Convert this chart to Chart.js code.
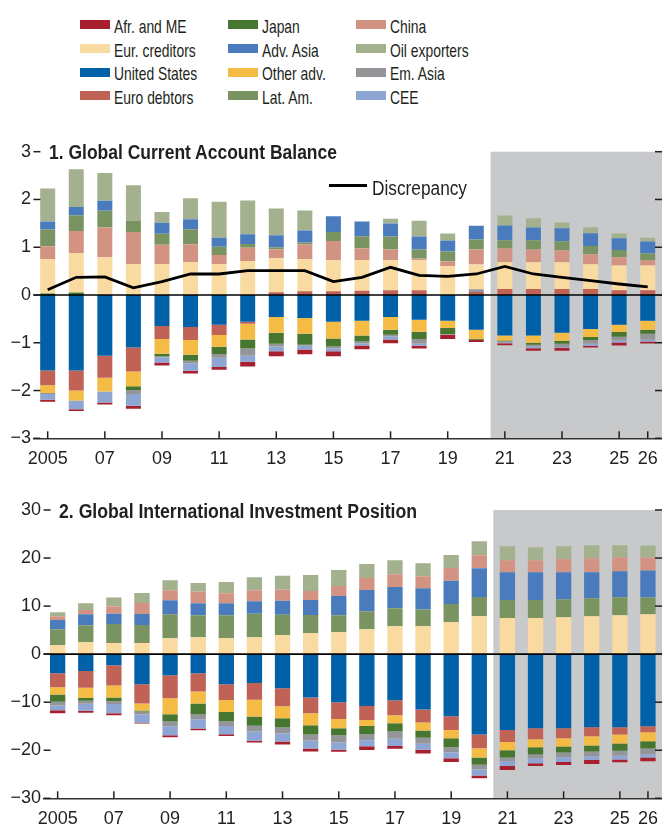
<!DOCTYPE html>
<html>
<head>
<meta charset="utf-8">
<script src="https://cdn.jsdelivr.net/npm/chart.js@4.4.1/dist/chart.umd.min.js"></script>
<style>
  html, body { margin:0; padding:0; background:#fff; }
  body { width:662px; height:825px; position:relative; overflow:hidden;
         font-family:'Liberation Sans',Arial,sans-serif; color:#231f20; }
  .txt { position:absolute; white-space:nowrap; transform-origin:0 50%; }
  .lg { font-size:19px; line-height:22px; transform:scaleX(0.73); }
  .sw { position:absolute; width:30px; height:9px; }
  .ttl { font-weight:bold; font-size:20px; line-height:24px; }
  canvas { position:absolute; left:0; }
</style>
</head>
<body>
<div id="legend"></div>
<canvas id="c1" width="662" height="345" style="top:130px; width:662px; height:345px;"></canvas>
<canvas id="c2" width="662" height="335" style="top:490px; width:662px; height:335px;"></canvas>
<div class="txt ttl" data-w="288" style="left:49px; top:140px;">1. Global Current Account Balance</div>
<div class="txt ttl" data-w="358" style="left:59px; top:499px;">2. Global International Investment Position</div>
<div style="position:absolute; left:329px; top:184px; width:38px; height:3px; background:#000;"></div>
<div class="txt" data-w="95" style="left:372px; top:176px; font-size:20px; line-height:24px;">Discrepancy</div>
<script>
// ---------- data ----------
const years = ['2005','2006','2007','2008','2009','2010','2011','2012','2013','2014','2015','2016','2017','2018','2019','2020','2021','2022','2023','2024','2025','2026'];
const tickLabels = ['2005','','07','','09','','11','','13','','15','','17','','19','','21','','23','','25','26'];
const caYTicks = [3,2,1,0,-1,-2,-3];
const iipYTicks = [30,20,10,0,-10,-20,-30];

// Panel 1: Global current account balance
const caUS        = [-1.58,-1.58,-1.27,-1.10,-0.65,-0.67,-0.625,-0.56,-0.46,-0.48,-0.56,-0.54,-0.46,-0.52,-0.54,-0.73,-0.85,-0.85,-0.79,-0.71,-0.625,-0.54];
const caEuroDebt  = [-0.31,-0.42,-0.46,-0.50,-0.27,-0.27,-0.21,-0.04,0.06,0.08,0.08,0.09,0.10,0.10,0,0.065,0.125,0.125,0.125,0.125,0.10,0.10];
const caOtherAdv  = [-0.16,-0.21,-0.29,-0.31,-0.31,-0.31,-0.25,-0.33,-0.33,-0.33,-0.35,-0.31,-0.27,-0.25,-0.15,-0.19,-0.10,-0.15,-0.17,-0.17,-0.15,-0.19];
const caJapan     = [0.03,0.05,0,-0.08,-0.06,-0.125,-0.15,-0.19,-0.23,-0.23,-0.17,-0.125,-0.10,-0.15,-0.125,-0.015,-0.02,-0.04,-0.06,-0.06,-0.10,-0.08];
const caEmAsia    = [-0.02,-0.01,0,-0.08,-0.015,-0.06,-0.08,-0.15,-0.06,-0.02,-0.04,-0.04,-0.04,-0.10,-0.015,0.055,-0.02,-0.04,-0.07,-0.08,-0.08,-0.125];
const caCEE       = [-0.125,-0.17,-0.23,-0.25,-0.11,-0.15,-0.19,-0.125,-0.10,-0.08,-0.06,-0.04,-0.06,-0.04,0,0,-0.02,-0.035,-0.015,-0.04,-0.04,-0.04];
const caAfrME     = [-0.04,-0.04,-0.04,-0.06,-0.06,-0.06,-0.06,-0.10,-0.10,-0.10,-0.10,-0.08,-0.08,-0.06,-0.09,-0.05,-0.04,-0.05,-0.06,-0.04,-0.06,-0.04];
const caEurCred   = [0.72,0.83,0.79,0.65,0.65,0.69,0.65,0.71,0.71,0.67,0.65,0.64,0.625,0.625,0.60,0.52,0.56,0.56,0.56,0.52,0.52,0.52];
const caChina     = [0.27,0.46,0.625,0.67,0.40,0.375,0.19,0.28,0.19,0.31,0.40,0.25,0.23,0.04,0.10,0.31,0.29,0.27,0.25,0.21,0.17,0.10];
const caLatAm     = [0.35,0.33,0.35,0.23,0.23,0.31,0.17,0.08,0.04,0.04,0.19,0.25,0.27,0.19,0.21,0.21,0.17,0.19,0.19,0.17,0.15,0.15];
const caAdvAsia   = [0.17,0.17,0.21,0,0.23,0.21,0.19,0.20,0.25,0.25,0.33,0.31,0.27,0.27,0.23,0.29,0.31,0.27,0.27,0.27,0.25,0.25];
const caOil       = [0.69,0.79,0.58,0.75,0.23,0.44,0.75,0.71,0.56,0.42,0,0,0.10,0.33,0.15,0,0.21,0.19,0.125,0.125,0.10,0.08];
const caDiscrepancy = [0.11,0.37,0.38,0.15,0.28,0.44,0.44,0.51,0.51,0.51,0.28,0.37,0.58,0.41,0.39,0.44,0.60,0.44,0.37,0.30,0.23,0.17];

// Panel 2: Global international investment position
const iipUS       = [-4.0,-3.5,-2.3,-6.25,-4.4,-4.0,-6.25,-6.0,-7.1,-9.0,-10.0,-10.8,-9.6,-11.5,-12.9,-16.7,-15.8,-15.4,-15.4,-15.2,-15.2,-15.0];
const iipEuroDebt = [-2.9,-3.5,-4.2,-4.0,-4.8,-3.75,-3.3,-3.5,-3.75,-3.3,-3.5,-2.9,-3.1,-2.7,-2.9,-2.9,-2.5,-2.3,-2.1,-1.9,-1.5,-1.25];
const iipOtherAdv = [-1.5,-2.1,-2.5,-1.5,-3.3,-2.5,-2.5,-3.5,-2.5,-2.5,-1.9,-1.25,-1.7,-1.7,-1.7,-1.9,-1.7,-1.7,-1.7,-1.9,-1.9,-1.9];
const iipJapan    = [-1.5,-0.6,-0.8,-0.2,-1.5,-2.3,-1.9,-1.9,-1.9,-1.9,-1.5,-1.7,-1.7,-1.5,-1.9,-1.5,-1.5,-1.5,-1.25,-1.25,-1.5,-1.5];
const iipEmAsia   = [-0.8,-0.6,-0.6,-0.6,-1.0,-1.0,-1.0,-1.2,-1.25,-1.25,-1.5,-1.25,-1.5,-1.25,-1.0,-1.0,-0.8,-0.8,-1.0,-1.0,-1.0,-1.25];
const iipCEE      = [-1.0,-1.5,-1.9,-1.7,-1.9,-1.9,-1.7,-1.9,-1.7,-1.7,-1.5,-1.25,-1.5,-1.25,-1.25,-1.25,-1.0,-1.0,-1.0,-0.8,-0.8,-0.6];
const iipAfrME    = [-0.6,-0.4,-0.4,-0.2,-0.4,-0.4,-0.4,-0.4,-0.6,-0.6,-0.4,-0.8,-0.6,-0.8,-0.8,-0.6,-0.8,-0.6,-0.6,-0.8,-0.6,-0.8];
const iipEurCred  = [1.9,2.5,2.3,2.3,3.3,3.5,3.3,3.5,4.0,4.4,4.6,5.2,5.8,5.8,6.7,7.9,7.5,7.5,7.7,7.9,8.1,8.3];
const iipLatAm    = [3.3,3.5,4.0,3.75,5.0,4.6,4.8,4.9,4.2,3.75,3.5,3.75,3.75,3.5,3.75,4.0,3.75,3.75,3.75,3.75,3.75,3.5];
const iipAdvAsia  = [1.9,2.3,2.1,2.3,2.9,2.5,2.5,2.6,2.9,3.1,4.0,4.4,4.4,4.4,4.8,6.0,5.8,5.8,5.6,5.4,5.4,5.6];
const iipChina    = [0.8,0.9,1.5,2.3,2.1,2.4,2.1,2.3,2.3,1.9,2.1,2.5,2.7,2.5,2.7,2.7,2.5,2.5,2.7,2.9,2.9,2.7];
const iipOil      = [0.8,1.4,1.9,2.1,2.1,1.8,2.3,2.7,2.9,3.3,3.3,2.9,2.9,2.7,2.7,2.9,2.9,2.7,2.7,2.7,2.5,2.5];

// ---------- series styling ----------
const SERIES = {
  afr:   { label:'Afr. and ME',    color:'#a81f2e' },
  eurc:  { label:'Eur. creditors', color:'#f9daa1' },
  us:    { label:'United States',  color:'#0060a8' },
  eurd:  { label:'Euro debtors',   color:'#c06256' },
  jpn:   { label:'Japan',          color:'#46762f' },
  advas: { label:'Adv. Asia',      color:'#4a7bbd' },
  oth:   { label:'Other adv.',     color:'#f4bc45' },
  lat:   { label:'Lat. Am.',       color:'#7a9461' },
  chn:   { label:'China',          color:'#d39383' },
  oil:   { label:'Oil exporters',  color:'#a3b18f' },
  emas:  { label:'Em. Asia',       color:'#939598' },
  cee:   { label:'CEE',            color:'#8ea6d4' }
};
const legendOrder = [['afr','jpn','chn'],['eurc','advas','oil'],['us','oth','emas'],['eurd','lat','cee']];

// legend (HTML)
(function(){
  const lg = document.getElementById('legend');
  const colX = [80, 228, 356];
  const swY = [24, 48, 72.3, 95.5];
  const txY = [26.3, 50.3, 74.2, 98.2];
  legendOrder.forEach((row, r) => row.forEach((k, c) => {
    const sw = document.createElement('div');
    sw.className = 'sw';
    sw.style.left = colX[c] + 'px';
    sw.style.top = (swY[r] - 4.5) + 'px';
    sw.style.background = SERIES[k].color;
    lg.appendChild(sw);
    const t = document.createElement('div');
    t.className = 'txt lg';
    t.style.left = (colX[c] + 34) + 'px';
    t.style.top = (txY[r] - 10.8) + 'px';
    t.textContent = SERIES[k].label;
    lg.appendChild(t);
  }));
  document.querySelectorAll('[data-w]').forEach(el => {
    const w = el.getBoundingClientRect().width;
    el.style.transform = 'scaleX(' + (parseFloat(el.dataset.w) / w) + ')';
  });
})();

const FONT = "'Liberation Sans', Arial, sans-serif";
const INK = '#231f20';

function fmt(v){ return v < 0 ? '\u2212' + Math.abs(v) : String(v); }

const decorPlugin = {
  id: 'decor',
  beforeDraw(chart, args, opts) {
    const {ctx, chartArea:a} = chart;
    const x = chart.scales.x;
    const xs = (x.getPixelForValue(opts.shadeFrom - 1) + x.getPixelForValue(opts.shadeFrom)) / 2;
    ctx.save();
    ctx.fillStyle = '#c8c9cb';
    ctx.fillRect(xs, a.top, a.right - xs, a.bottom - a.top);
    ctx.restore();
  },
  afterDatasetsDraw(chart) {
    const {ctx, chartArea:a} = chart;
    const y0 = chart.scales.y.getPixelForValue(0);
    ctx.save();
    ctx.strokeStyle = '#000';
    ctx.lineWidth = 1.6;
    ctx.beginPath(); ctx.moveTo(a.left, y0); ctx.lineTo(a.right, y0); ctx.stroke();
    ctx.restore();
  },
  afterDraw(chart, args, opts) {
    const {ctx, chartArea:a} = chart;
    const y = chart.scales.y, x = chart.scales.x;
    ctx.save();
    ctx.strokeStyle = INK;
    ctx.lineWidth = 1.5;
    y.ticks.forEach(t => {
      const py = y.getPixelForValue(t.value);
      const major = opts.majors.includes(t.value);
      ctx.beginPath(); ctx.moveTo(a.left, py); ctx.lineTo(a.left + (major ? 7 : 3.5), py); ctx.stroke();
      ctx.beginPath(); ctx.moveTo(a.right - 7, py); ctx.lineTo(a.right, py); ctx.stroke();
    });
    tickLabels.forEach((lab, i) => {
      if (!lab) return;
      const px = x.getPixelForValue(i);
      ctx.beginPath(); ctx.moveTo(px, a.bottom); ctx.lineTo(px, a.bottom - 7); ctx.stroke();
    });
    ctx.restore();
  }
};

function makeChart(id, cfg) {
  const bars = cfg.order.map(([k, data]) => ({
    type: 'bar', label: SERIES[k].label, data: data,
    backgroundColor: SERIES[k].color, borderWidth: 0, order: 1,
    barPercentage: cfg.barPct, categoryPercentage: 1
  }));
  const datasets = cfg.line ? [{
    type: 'line', label: 'Discrepancy', data: cfg.line, borderColor: '#000',
    borderWidth: 2.8, pointRadius: 0, tension: 0, fill: false, order: 0
  }].concat(bars) : bars;
  return new Chart(document.getElementById(id), {
    data: { labels: years, datasets },
    plugins: [decorPlugin],
    options: {
      responsive: false, animation: false, devicePixelRatio: 1,
      layout: { padding: { top: cfg.padTop, left: 0, right: 0, bottom: 0 } },
      plugins: { legend: { display: false }, tooltip: { enabled: false },
                 decor: { shadeFrom: 16, majors: cfg.majors } },
      scales: {
        x: {
          stacked: true, offset: true,
          grid: { display: false, drawTicks: false },
          border: { display: true, color: '#333', width: 1.5 },
          ticks: { autoSkip: false, maxRotation: 0, padding: cfg.xPad, color: INK,
                   font: { family: FONT, size: 18 },
                   callback: (v, i) => tickLabels[i] },
          afterFit: s => { s.height = cfg.xH; s.paddingLeft = 0; s.paddingRight = 0; }
        },
        y: {
          stacked: true, min: cfg.min, max: cfg.max,
          grid: { display: false, drawTicks: false },
          border: { display: false },
          ticks: { stepSize: cfg.step, padding: 2.5, color: INK,
                   font: { family: FONT, size: 18 },
                   callback: v => cfg.majors.includes(v) ? fmt(v) : '' },
          afterFit: s => { s.width = cfg.yW; s.paddingTop = 0; s.paddingBottom = 0; }
        }
      }
    }
  });
}

makeChart('c1', {
  order: [['us',caUS],['eurd',caEuroDebt],['oth',caOtherAdv],['jpn',caJapan],['emas',caEmAsia],['cee',caCEE],['afr',caAfrME],
          ['eurc',caEurCred],['chn',caChina],['lat',caLatAm],['advas',caAdvAsia],['oil',caOil]],
  line: caDiscrepancy, min: -3, max: 3, step: 0.5, majors: caYTicks,
  barPct: 0.525, padTop: 21.7, xH: 36.7, yW: 33.4, xPad: 10
});
makeChart('c2', {
  order: [['us',iipUS],['eurd',iipEuroDebt],['oth',iipOtherAdv],['jpn',iipJapan],['emas',iipEmAsia],['cee',iipCEE],['afr',iipAfrME],
          ['eurc',iipEurCred],['lat',iipLatAm],['advas',iipAdvAsia],['chn',iipChina],['oil',iipOil]],
  line: null, min: -30, max: 30, step: 5, majors: iipYTicks,
  barPct: 0.545, padTop: 20, xH: 26.7, yW: 43.6, xPad: 10
});
</script>
</body>
</html>
